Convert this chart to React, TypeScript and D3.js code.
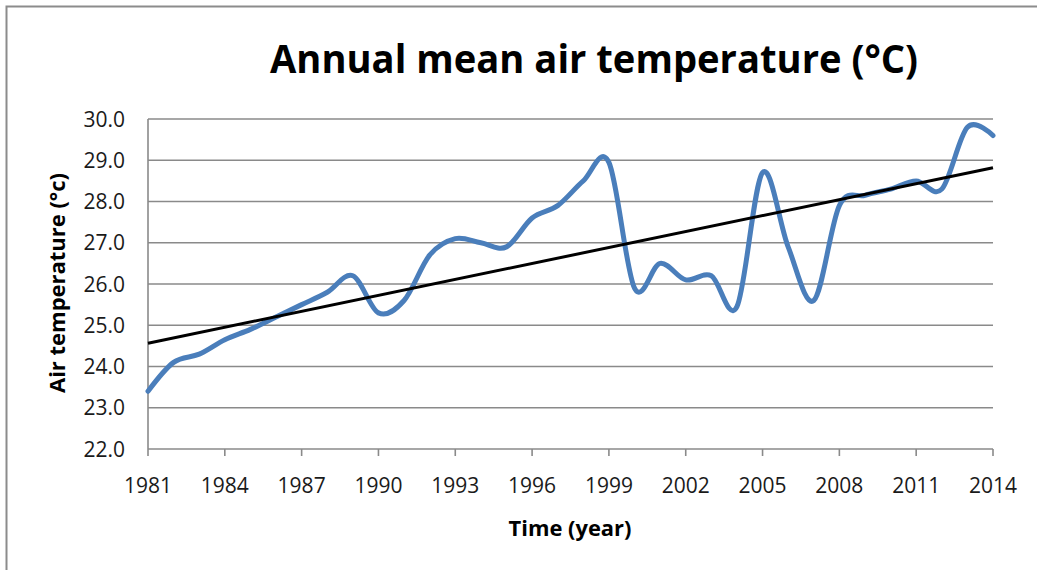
import React from "react";
import * as d3 from "d3";

const years: number[] = d3.range(1981, 2015);
const temps: number[] = [
  23.4, 24.1, 24.3, 24.65, 24.9, 25.2, 25.5, 25.8, 26.2, 25.3,
  25.6, 26.7, 27.1, 27.0, 26.9, 27.6, 27.9, 28.5, 28.95, 25.9,
  26.5, 26.1, 26.2, 25.45, 28.7, 26.9, 25.6, 27.9, 28.15, 28.3,
  28.5, 28.3, 29.8, 29.6,
];
const xTickYears: number[] = [1981, 1984, 1987, 1990, 1993, 1996, 1999, 2002, 2005, 2008, 2011, 2014];
const yTicks: number[] = [22, 23, 24, 25, 26, 27, 28, 29, 30];
const title = "Annual mean air temperature (°C)";
const xTitle = "Time (year)";
const yTitle = "Air temperature (°c)";

const W = 1037;
const H = 570;
const M = { left: 148, right: 993, top: 119, bottom: 449 };
const FONT = "'Open Sans', 'Noto Sans', sans-serif";

export default function App() {
  const x = d3.scaleLinear().domain([1981, 2014]).range([M.left, M.right]);
  const y = d3.scaleLinear().domain([22, 30]).range([M.bottom, M.top]);

  const pts: [number, number][] = years.map((yr, i) => [yr, temps[i]]);
  const line = d3
    .line<[number, number]>()
    .x((d) => x(d[0]))
    .y((d) => y(d[1]))
    .curve(d3.curveCatmullRom.alpha(0));

  // linear trend (least squares)
  const mx = d3.mean(years) as number;
  const my = d3.mean(temps) as number;
  let num = 0;
  let den = 0;
  years.forEach((yr, i) => {
    num += (yr - mx) * (temps[i] - my);
    den += (yr - mx) * (yr - mx);
  });
  const slope = num / den;
  const icpt = my - slope * mx;
  const trend: [number, number][] = [
    [1981, icpt + slope * 1981],
    [2014, icpt + slope * 2014],
  ];

  const grid = "#8a8a8a";

  return (
    <div style={{ position: "fixed", left: 0, top: 0 }}>
      <svg width={W} height={H} style={{ display: "block", background: "#fff" }}>
        <rect x={0} y={0} width={W} height={H} fill="#fff" />
        {/* outer chart border */}
        <rect x={6.5} y={6.5} width={W + 20} height={H + 20} fill="none" stroke="#8c8c8c" strokeWidth={2} />

        {/* title */}
        <text
          x={270}
          y={73}
          fontFamily={FONT}
          fontWeight={700}
          fontSize={39}
          textLength={648}
          lengthAdjust="spacingAndGlyphs"
          fill="#000"
        >
          {title}
        </text>

        {/* gridlines */}
        {yTicks.map((t) => (
          <line key={"g" + t} x1={M.left} x2={M.right} y1={y(t)} y2={y(t)} stroke={grid} strokeWidth={1.6} />
        ))}
        {/* y axis line */}
        <line x1={M.left} x2={M.left} y1={M.top} y2={M.bottom} stroke={grid} strokeWidth={1.6} />
        {/* x ticks */}
        {xTickYears.map((t) => (
          <line key={"xt" + t} x1={x(t)} x2={x(t)} y1={M.bottom} y2={M.bottom + 7} stroke={grid} strokeWidth={1.6} />
        ))}

        {/* y tick labels */}
        {yTicks.map((t) => (
          <text
            key={"yl" + t}
            x={125}
            y={y(t) + 7.5}
            textAnchor="end"
            fontFamily={FONT}
            fontSize={21}
            fill="#1a1a1a"
          >
            {t.toFixed(1)}
          </text>
        ))}
        {/* x tick labels */}
        {xTickYears.map((t) => (
          <text
            key={"xl" + t}
            x={x(t)}
            y={493}
            textAnchor="middle"
            fontFamily={FONT}
            fontSize={21}
            fill="#1a1a1a"
          >
            {t}
          </text>
        ))}

        {/* data line */}
        <path d={line(pts) || ""} fill="none" stroke="#4A7EBB" strokeWidth={5} strokeLinejoin="round" strokeLinecap="round" />
        {/* trend line */}
        <path
          d={d3.line<[number, number]>().x((d) => x(d[0])).y((d) => y(d[1]))(trend) || ""}
          fill="none"
          stroke="#000"
          strokeWidth={3}
        />

        {/* axis titles */}
        <text
          x={570}
          y={536}
          textAnchor="middle"
          fontFamily={FONT}
          fontWeight={700}
          fontSize={22}
          textLength={123}
          lengthAdjust="spacingAndGlyphs"
          fill="#000"
        >
          {xTitle}
        </text>
        <text
          transform="translate(65,283) rotate(-90)"
          textAnchor="middle"
          fontFamily={FONT}
          fontWeight={700}
          fontSize={22}
          textLength={220}
          lengthAdjust="spacingAndGlyphs"
          fill="#000"
        >
          {yTitle}
        </text>
      </svg>
    </div>
  );
}
